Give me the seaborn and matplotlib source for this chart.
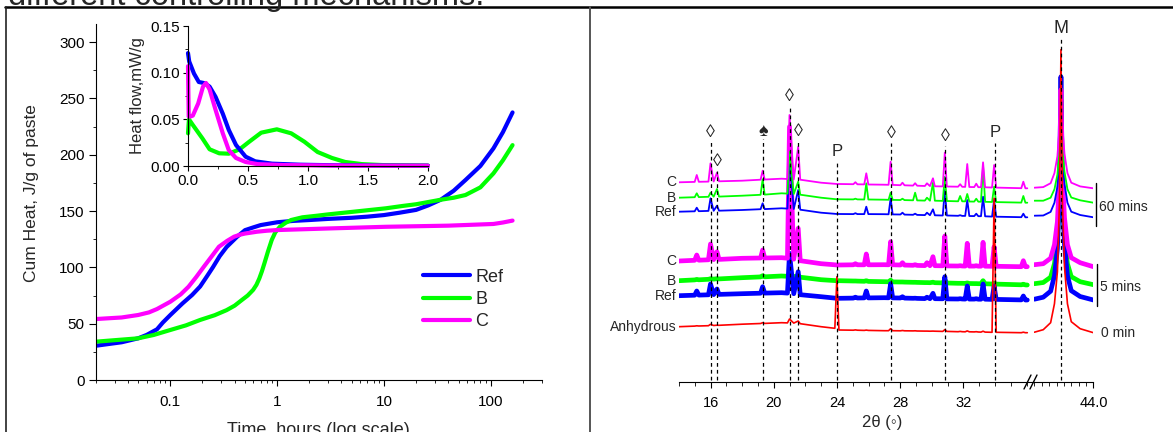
import numpy as np
import pandas as pd
import matplotlib
matplotlib.use("Agg")
import matplotlib.pyplot as plt
from matplotlib.lines import Line2D
from matplotlib.ticker import LogLocator, NullFormatter, MultipleLocator
import seaborn as sns

sns.set_style("ticks")
plt.rcParams['font.family'] = ['Liberation Sans', 'DejaVu Sans']

W, H = 1173, 432
BLUE, GREEN, MAGENTA, RED = '#0000ff', '#00ff00', '#ff00ff', '#ff0000'

# cumulative heat, J/g of paste vs time (h)
t_ref = [0.02, 0.035, 0.05, 0.06, 0.075, 0.085, 0.1, 0.13, 0.16, 0.19,
         0.22, 0.25, 0.29, 0.336, 0.42, 0.5, 0.6, 0.7, 1.0, 1.4,
         2.0, 3, 5, 7, 10, 14, 20, 26, 34, 45,
         58, 80, 106, 130, 160]
heat_ref = [30.4, 33.5, 37, 40, 45, 51, 57.7, 68, 75.5, 83,
            92, 100, 110, 118, 127, 133, 135.5, 137.5, 140, 141.2,
            142, 143, 144, 145, 146.4, 148.5, 151, 155, 160, 168,
            177.5, 190, 205.6, 220, 237.5]
t_b = [0.02, 0.05, 0.07, 0.1, 0.14, 0.19, 0.26, 0.336, 0.4, 0.467,
       0.53, 0.596, 0.64, 0.68, 0.72, 0.76, 0.82, 0.89, 0.96, 1.06,
       1.2, 1.35, 1.72, 2.3, 3, 6, 10.4, 15, 20, 34,
       45, 58, 80, 106, 130, 160]
heat_b = [34, 37, 40, 44.4, 48.5, 53.3, 57.5, 62, 66, 71,
          75, 80, 84.5, 90, 96.5, 103.6, 114, 124.3, 131, 136,
          139.5, 142, 144.4, 145.7, 147, 150, 152.4, 154.5, 156, 160,
          161.8, 164.2, 171, 183.4, 195, 208.5]
t_c = [0.02, 0.035, 0.05, 0.063, 0.075, 0.1, 0.125, 0.148, 0.175, 0.206,
       0.245, 0.285, 0.34, 0.395, 0.45, 0.5, 0.646, 0.8, 1.0, 3,
       10.4, 40, 106, 130, 160]
heat_c = [54.1, 55.5, 57.7, 60, 63, 69.5, 76, 82.8, 91.5, 100.6,
          110, 118.3, 123.5, 127.2, 129, 130, 131.6, 132.5, 133.1, 134.5,
          136, 137, 138.5, 139.8, 141.5]

# heat flow inset, mW/g vs time (h)
hf_t_ref = [0, 0.01, 0.05, 0.09, 0.14, 0.18, 0.23, 0.29, 0.34, 0.4, 0.48, 0.56, 0.7, 0.93, 1.2, 1.5, 2.0]
hf_ref = [0.121, 0.112, 0.099, 0.090, 0.0887, 0.085, 0.074, 0.056, 0.0386, 0.0225, 0.01, 0.005, 0.0025, 0.0014, 0.0008, 0.0005, 0.0003]
hf_t_b = [0, 0.008, 0.04, 0.12, 0.18, 0.26, 0.34, 0.43, 0.51, 0.61, 0.74, 0.86, 0.97, 1.08, 1.2, 1.31, 1.45, 1.62, 2.0]
hf_b = [0.035, 0.05, 0.044, 0.0296, 0.0179, 0.0136, 0.0132, 0.0179, 0.026, 0.0357, 0.0393, 0.035, 0.026, 0.015, 0.0086, 0.0043, 0.002, 0.001, 0.0005]
hf_t_c = [0, 0.006, 0.02, 0.04, 0.085, 0.125, 0.15, 0.18, 0.23, 0.29, 0.34, 0.4, 0.48, 0.58, 0.8, 1.2, 2.0]
hf_c = [0.107, 0.053, 0.053, 0.054, 0.067, 0.085, 0.089, 0.082, 0.06, 0.035, 0.017, 0.0086, 0.0043, 0.002, 0.001, 0.0005, 0.0003]

# XRD, 2theta 14-36 (offset intensities, a.u.)
tt1 = [14.0, 15.0, 15.13, 15.26, 15.87, 16.0, 16.2, 16.41, 16.54, 18.0,
       19.17, 19.3, 19.43, 20.5, 20.87, 21.0, 21.27, 21.55, 21.68, 23.0,
       23.87, 24.0, 24.13, 25.04, 25.17, 25.3, 25.73, 25.86, 25.99, 27.0,
       27.27, 27.4, 27.53, 28.02, 28.15, 28.28, 28.82, 28.95, 29.08, 29.57,
       29.7, 29.89, 30.08, 30.2, 30.7, 30.83, 30.96, 31.67, 31.8, 31.93,
       32.12, 32.25, 32.38, 32.69, 32.82, 32.95, 33.12, 33.25, 33.38, 33.82,
       33.95, 34.08, 35.67, 35.8, 35.93, 36.05]
c60 = [199.4, 199.8, 206.7, 199.9, 200.1, 218.4, 200.2, 209, 200.4, 201,
       202, 211, 202.2, 203, 202.7, 266.7, 202.3, 235, 202, 199,
       197.9, 197.7, 197.7, 197.5, 199.5, 197.4, 197.3, 208.4, 197.2, 197,
       196.9, 220, 196.8, 196.5, 199, 196.4, 196.1, 198.5, 196, 195.7,
       198.4, 195.6, 203.4, 195.4, 195.3, 229, 195.2, 195, 197.5, 194.9,
       194.8, 217.7, 194.7, 194.6, 198, 194.5, 194.5, 219.4, 194.4, 194.2,
       216.7, 194.1, 193.5, 200, 193.4, 193.4]
b60 = [184, 184.5, 188.4, 184.6, 184.9, 189, 185, 192.7, 185.1, 186,
       186.9, 202.4, 187.1, 188.4, 188.1, 230, 187.7, 200, 187, 184,
       182.6, 182.4, 182.4, 182.3, 183, 182.3, 182.2, 198.4, 182.2, 182,
       181.9, 189, 181.8, 181.7, 183, 181.6, 181.4, 189, 181.3, 181.1,
       184, 181, 199, 181, 180.8, 205, 180.7, 180.4, 185.7, 180.4,
       180.3, 187.7, 180.2, 180.1, 183, 180, 180, 215.7, 179.9, 179.7,
       195, 179.6, 179.1, 185.7, 179, 179]
ref60 = [170, 170.4, 174, 170.5, 170.8, 183.4, 170.9, 176, 171, 171.7,
         172.5, 178.4, 172.6, 173.4, 173.1, 225, 172.7, 191.7, 172, 169,
         167.9, 167.7, 167.7, 167.6, 168.5, 167.6, 167.6, 175, 167.6, 167.5,
         167.4, 183.4, 167.3, 167.2, 169, 167.1, 166.9, 168, 166.8, 166.6,
         169, 166.5, 172.4, 166.4, 166.2, 191.7, 166.2, 165.9, 166.5, 165.8,
         165.8, 181.7, 165.7, 165.6, 168, 165.5, 165.5, 185, 165.4, 165.1,
         181.7, 165, 164.5, 168, 164.4, 164.4]
c5 = [120.7, 121.4, 126.7, 121.5, 121.9, 137.7, 122.1, 130, 122.3, 123.4,
      123.7, 131.7, 123.7, 124, 123.5, 255, 122.5, 153.4, 121, 118,
      116.9, 116.7, 116.7, 116.9, 118, 116.9, 116.9, 127.7, 116.9, 117,
      116.9, 140, 116.9, 116.7, 119, 116.6, 116.4, 117, 116.3, 116.1,
      119, 116, 125, 116, 115.9, 145.7, 115.8, 115.7, 116, 115.7,
      115.6, 138.4, 115.6, 115.6, 116, 115.5, 115.5, 139.4, 115.5, 115.4,
      135, 115.4, 115, 121, 115, 115]
b5 = [101, 101.8, 102.3, 101.9, 102.4, 103, 102.6, 103, 102.8, 104,
      104.8, 106, 104.9, 105.7, 105.4, 107.5, 105, 106, 104.5, 102,
      101.1, 101, 101, 100.7, 100.7, 100.6, 100.4, 101, 100.3, 100,
      99.9, 101.5, 99.8, 99.7, 99.7, 99.6, 99.4, 99.4, 99.3, 99.1,
      99.1, 99, 99.5, 99, 98.8, 102, 98.7, 98.4, 98.4, 98.4,
      98.3, 98.8, 98.2, 98.1, 98.1, 98, 98, 101, 97.9, 97.7,
      98.5, 97.6, 96.9, 97.5, 96.8, 96.7]
ref5 = [86, 86.5, 90.7, 86.6, 86.9, 97.7, 87.1, 92.7, 87.3, 88,
        88.5, 95, 88.6, 89, 88.6, 128.4, 88, 110, 87, 85,
        83.6, 83.4, 83.4, 83.6, 84.5, 83.7, 83.8, 90.7, 83.8, 84,
        83.9, 98, 83.8, 83.7, 85, 83.6, 83.4, 83.5, 83.3, 83.1,
        84.5, 83, 88.4, 83, 82.9, 105, 82.8, 82.7, 83, 82.7,
        82.6, 95.7, 82.6, 82.6, 83, 82.5, 82.5, 97.7, 82.5, 82.3,
        95.7, 82.3, 81.8, 85.7, 81.7, 81.7]
anh = [55, 55.6, 55.9, 55.7, 56, 57.4, 56.2, 56.5, 56.4, 57.5,
       58.2, 59, 58.3, 59, 58.8, 62.7, 58.6, 60.7, 58, 55,
       53.4, 105, 51.7, 51.5, 51.8, 51.5, 51.3, 51.6, 51.3, 51,
       51, 53, 51, 50.9, 51.2, 50.9, 50.8, 50.9, 50.7, 50.6,
       50.6, 50.5, 50.6, 50.5, 50.3, 52, 50.3, 50, 50.3, 50,
       49.9, 50.8, 49.9, 49.8, 50, 49.7, 49.6, 50.5, 49.6, 49.4,
       183.4, 49.4, 49, 49.5, 49, 49]

# XRD, 2theta 42-44 (M peak)
tt2 = [42.0, 42.3, 42.55, 42.68, 42.78, 42.85, 42.9, 42.95, 43.02, 43.12, 43.25, 43.55, 44.0]
m_c60 = [194, 194.6, 198.5, 208.6, 225.5, 254, 290, 254, 228, 208.6, 199, 195.3, 193.4]
m_b60 = [181, 181, 184, 192.5, 207, 232, 268, 232, 210, 192.5, 184.2, 181.4, 179]
m_ref60 = [166, 166.2, 169.8, 179, 195, 222, 262, 222, 198, 179, 170, 166.7, 164.4]
m_c5 = [117, 118, 123.5, 137, 160, 205, 292, 205, 164, 137, 124, 119, 115]
m_b5 = [98, 99.2, 104.5, 118, 142, 188, 282, 188, 146, 118, 105, 100, 97]
m_ref5 = [82.5, 84.5, 90.5, 106, 133, 192, 305, 192, 137, 106, 91, 85.2, 81.7]
m_anh = [49.5, 52, 59, 78, 110, 180, 332, 180, 115, 78, 60, 53, 49]

# phase markers
phase_pos = [16.0, 16.42, 19.33, 21.0, 21.56, 24.0, 27.43, 30.86, 34.03]
phase_sym = ['◊', '◊', '♠', '◊', '◊', 'P', '◊', '◊', 'P']
phase_top = [239.7, 210.7, 242.7, 275.7, 240.7, 219.7, 238.7, 235.7, 238.7]
phase_lab = [248.7, 219.7, 249.7, 284.7, 249.7, 229.7, 247.7, 244.7, 248.7]
m_pos, m_top, m_lab = 42.9, 343.7, 352.7


def box(x0, y0, x1, y1):
    return [x0 / W, 1 - y1 / H, (x1 - x0) / W, (y1 - y0) / H]


def figline(x0, y0, x1, y1, **kw):
    fig.add_artist(Line2D([x0 / W, x1 / W], [1 - y0 / H, 1 - y1 / H],
                          transform=fig.transFigure, **kw))


fig = plt.figure(figsize=(W / 100, H / 100), dpi=100)

fig.text(8 / W, 1 - 5 / H, 'different controlling mechanisms.', fontsize=23.5, va='baseline', ha='left')
figline(5, 7.3, W, 7.3, color='black', lw=1.8)
figline(6, 7.3, 6, H, color='#222222', lw=1.2)
figline(590, 7.3, 590, H, color='#555555', lw=1.4)

# ---- left: cumulative heat ----
ax = fig.add_axes(box(95.7, 24, 541.7, 380))
ax.patch.set_alpha(0)
ax.set_xscale('log')
for t, v, c, name in [(t_ref, heat_ref, BLUE, 'Ref'), (t_b, heat_b, GREEN, 'B'), (t_c, heat_c, MAGENTA, 'C')]:
    sns.lineplot(x=t, y=v, ax=ax, color=c, lw=3, label=name, estimator=None, sort=False)
ax.set_xlim(0.02, 300)
ax.set_ylim(0, 316)
ax.set_yticks(np.arange(0, 301, 50))
ax.yaxis.set_minor_locator(MultipleLocator(25))
ax.set_xticks([0.1, 1, 10, 100], ['0.1', '1', '10', '100'])
ax.xaxis.set_minor_locator(LogLocator(subs=np.arange(2, 10)))
ax.xaxis.set_minor_formatter(NullFormatter())
sns.despine(ax=ax)
for s in ax.spines.values():
    s.set_color('black')
ax.tick_params(which='both', direction='out', colors='black', labelsize=11)
ax.tick_params(axis='y', which='major', length=5, pad=3)
ax.tick_params(axis='x', which='major', length=4, pad=7)
ax.tick_params(which='minor', length=2.5)
ax.set_ylabel('Cum Heat, J/g of paste', fontsize=12.5)
ax.yaxis.set_label_coords(-0.128, 0.524)
ax.set_xlabel('Time, hours (log scale)', fontsize=13, labelpad=9)
ax.legend(loc='center left', bbox_to_anchor=((423 - 95.7) / 446, (380 - 299.5) / 356),
          frameon=False, fontsize=13, handlelength=2.6, handletextpad=0.3,
          labelspacing=0.3, borderaxespad=0, borderpad=0)

# ---- inset: heat flow ----
axin = fig.add_axes(box(188, 26, 428, 166))
axin.patch.set_alpha(0)
for t, v, c in [(hf_t_b, hf_b, GREEN), (hf_t_ref, hf_ref, BLUE), (hf_t_c, hf_c, MAGENTA)]:
    sns.lineplot(x=t, y=v, ax=axin, color=c, lw=3, estimator=None, sort=False, clip_on=False)
axin.set_xlim(0, 2)
axin.set_ylim(0, 0.15)
axin.set_xticks([0, 0.5, 1, 1.5, 2], ['0.0', '0.5', '1.0', '1.5', '2.0'])
axin.set_yticks([0, 0.05, 0.1, 0.15], ['0.00', '0.05', '0.10', '0.15'])
axin.xaxis.set_minor_locator(MultipleLocator(0.25))
axin.yaxis.set_minor_locator(MultipleLocator(0.025))
sns.despine(ax=axin)
for s in axin.spines.values():
    s.set_color('black')
axin.tick_params(which='both', direction='out', colors='black', labelsize=11, pad=2)
axin.tick_params(which='major', length=3.5)
axin.tick_params(which='minor', length=2)
axin.set_ylabel('Heat flow,mW/g', fontsize=12, labelpad=4)

# ---- right: XRD with broken axis ----
xa = fig.add_axes(box(678.9, 21.7, 1034.4, 381.7))
xb = fig.add_axes(box(1034.4, 21.7, 1093.4, 381.7))
for a in (xa, xb):
    a.patch.set_alpha(0)
    for s in ('left', 'top', 'right'):
        a.spines[s].set_visible(False)
    a.spines['bottom'].set_color('black')
    a.set_yticks([])
    a.set_ylim(0, 360)
    a.tick_params(which='both', direction='out', colors='black', labelsize=10.5, pad=6)
    a.tick_params(which='major', length=4)
    a.tick_params(which='minor', length=3)
xa.set_xlim(14, 36.5)
xa.set_xticks([16, 20, 24, 28, 32])
xa.xaxis.set_minor_locator(MultipleLocator(1))
xb.set_xlim(42, 44)
xb.set_xticks([44], ['44.0'])
xb.xaxis.set_minor_locator(MultipleLocator(0.25))

traces = [
    (b5, m_b5, GREEN, 3.4),
    (ref5, m_ref5, BLUE, 3.4),
    (c5, m_c5, MAGENTA, 3.4),
    (ref60, m_ref60, BLUE, 1.3),
    (b60, m_b60, GREEN, 1.3),
    (c60, m_c60, MAGENTA, 1.3),
    (anh, m_anh, RED, 1.2),
]
for v1, v2, c, lw in traces:
    sns.lineplot(x=tt1, y=v1, ax=xa, color=c, lw=lw, estimator=None, sort=False,
                 solid_joinstyle='round')
    sns.lineplot(x=tt2, y=v2, ax=xb, color=c, lw=lw, estimator=None, sort=False,
                 solid_joinstyle='round')

for name, v in [('C', c60), ('B', b60), ('Ref', ref60), ('C', c5), ('B', b5), ('Ref', ref5), ('Anhydrous', anh)]:
    xa.text(13.85, v[0], name, ha='right', va='center', fontsize=10)

dash = (0, (3, 2.5))
for p, s, top, lab in zip(phase_pos, phase_sym, phase_top, phase_lab):
    xa.plot([p, p], [2, top], color='black', lw=0.9, ls=dash)
    xa.text(p, lab, s, ha='center', va='center', fontsize=12 if s == 'P' else 13)
xb.plot([m_pos, m_pos], [2, m_top], color='black', lw=0.9, ls=dash)
xb.text(m_pos, m_lab, 'M', ha='center', va='center', fontsize=13)

# time group labels
xb.plot([44.09, 44.09], [198.7, 155.7], color='black', lw=1, clip_on=False)
xb.plot([44.12, 44.12], [117.7, 75.7], color='black', lw=1, clip_on=False)
xb.text(44.19, 174.7, '60 mins', ha='left', va='center', fontsize=10)
xb.text(44.22, 94.7, '5 mins', ha='left', va='center', fontsize=10)
xb.text(44.25, 48.7, '0 min', ha='left', va='center', fontsize=10)

# axis break marks
figline(1024, 389, 1031, 375, color='black', lw=1)
figline(1030, 389, 1037, 375, color='black', lw=1)

fig.text(882 / W, 1 - 422 / H, '2θ (◦)', ha='center', va='center', fontsize=12)

fig.savefig('out.png', dpi=100)
